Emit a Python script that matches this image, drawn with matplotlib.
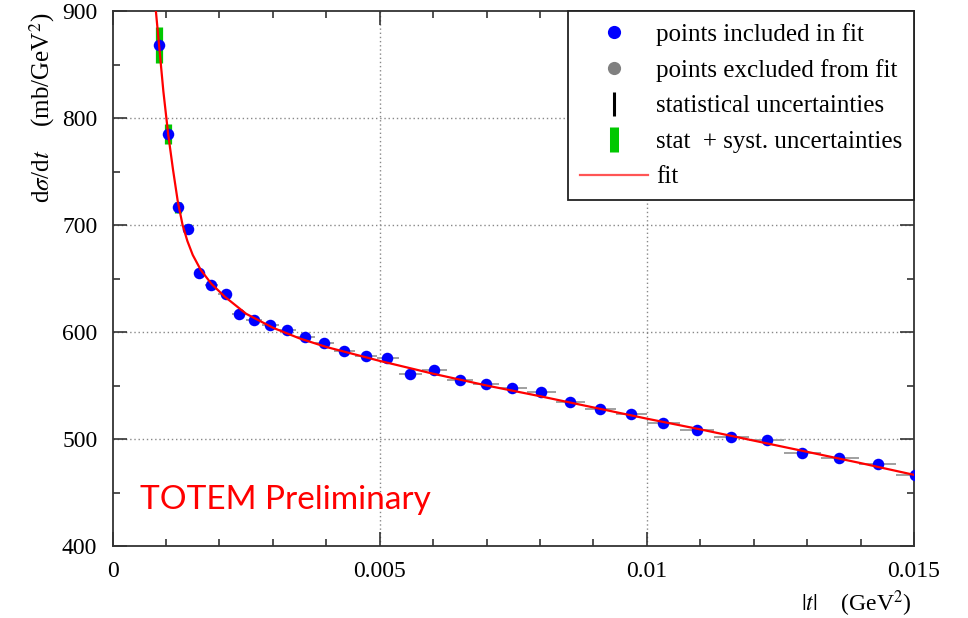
import numpy as np
import matplotlib
matplotlib.use("Agg")
import matplotlib.pyplot as plt
from matplotlib.lines import Line2D

# ---- data ----
t_vals = [0.00087, 0.00104, 0.00122, 0.00142, 0.00162, 0.00184, 0.00212, 0.00236,
          0.00265, 0.00295, 0.00327, 0.00360, 0.00396, 0.00433, 0.00474, 0.00514,
          0.00557, 0.00602, 0.00650, 0.00699, 0.00748, 0.00802, 0.00856, 0.00913,
          0.00971, 0.01031, 0.01094, 0.01158, 0.01224, 0.01291, 0.01360, 0.01433,
          0.01501]
dsig_vals = [868, 785, 716.5, 696.5, 655.4, 644, 635.2, 616.8,
             611, 607, 602, 595.3, 589.7, 582.2, 577.6, 575.7,
             560.7, 564.5, 555.1, 551.4, 547.7, 543.9, 534.6, 528.0,
             523.4, 514.9, 508.4, 501.9, 499.1, 486.9, 482.2, 476.6,
             466]
stat_err = [5, 4, 3, 3, 2.5, 2.5, 2, 2, 2, 2, 2, 2, 2, 2, 2, 2,
            2, 2, 2, 2, 2, 2, 2, 2, 2, 2, 2, 2, 2, 2, 2, 2, 2]
tot_err = [17, 9, 5, 4, 3, 3, 2.5, 2.5, 2.5, 2.5, 2.5, 2.5, 2.5, 2.5, 2.5, 2.5,
           2.5, 2.5, 2.5, 2.5, 2.5, 2.5, 2.5, 2.5, 2.5, 2.5, 2.5, 2.5, 2.5, 2.5, 2.5, 2.5, 2.5]

fit_t = [0.00081, 0.00087, 0.00095, 0.00104, 0.00113, 0.00122, 0.00131, 0.00140,
         0.00150, 0.00165, 0.00185, 0.00210, 0.00250, 0.00300, 0.00350, 0.00400,
         0.00500, 0.00600, 0.00700, 0.00800, 0.00900, 0.01000, 0.01100, 0.01200,
         0.01300, 0.01400, 0.01500]
fit_v = [900, 868, 825, 785, 752, 722, 700, 685,
         672, 658, 645, 633, 617, 604, 594, 586,
         573, 561, 550, 540, 529.5, 519, 509, 498.5,
         488, 477.5, 466.5]

x_ticks = [0, 0.005, 0.01, 0.015]
x_ticklabels = ["0", "0.005", "0.01", "0.015"]
y_ticks = [400, 500, 600, 700, 800, 900]

legend_labels = ["points included in fit", "points excluded from fit",
                 "statistical uncertainties", "stat  + syst. uncertainties", "fit"]

# ---- style ----
plt.rcParams['font.family'] = ['Liberation Serif', 'DejaVu Serif']
plt.rcParams['mathtext.fontset'] = 'stix'

W, H = 968, 618
fig = plt.figure(figsize=(W / 100, H / 100), dpi=100)
ax = fig.add_axes([112.6 / W, 1 - 546 / H, (914 - 112.6) / W, (546 - 11) / H])

t = np.array(t_vals)
v = np.array(dsig_vals)
# bin edges: midpoints between neighbouring points
mids = (t[1:] + t[:-1]) / 2
left = np.concatenate([[t[0] - (mids[0] - t[0])], mids])
right = np.concatenate([mids, [t[-1] + (t[-1] - mids[-1])]])
xerr = np.vstack([t - left, right - t])

green = '#00c800'
ax.errorbar(t, v, yerr=tot_err, fmt='none', ecolor=green, elinewidth=5.2,
            capsize=0, zorder=2)
ax.errorbar(t, v, xerr=xerr, fmt='none', ecolor='#a0a0a0', elinewidth=1.4,
            capsize=0, zorder=2.5)
ax.errorbar(t, v, yerr=stat_err, fmt='none', ecolor='black', elinewidth=1.5,
            capsize=0, zorder=3)
ax.plot(t, v, 'o', color='#0000ff', markersize=8.3, markeredgewidth=0, zorder=4)
ax.plot(fit_t, fit_v, '-', color='#ff0000', linewidth=1.6, zorder=5)

ax.set_xlim(0, 0.015)
ax.set_ylim(400, 900)
ax.set_xticks(x_ticks)
ax.set_xticklabels(x_ticklabels)
ax.set_yticks(y_ticks)
ax.set_xticks(np.arange(0, 0.0151, 0.001), minor=True)
ax.set_yticks(np.arange(400, 901, 50), minor=True)

ax.tick_params(which='both', direction='in', top=True, right=True,
               color='#333333', width=1.2)
ax.tick_params(which='major', length=10, labelsize=17)
ax.tick_params(which='minor', length=5)
ax.tick_params(axis='x', which='major', pad=11)
ax.tick_params(axis='y', which='major', pad=11)
for s in ax.spines.values():
    s.set_color('#333333')
    s.set_linewidth(1.3)

for gx in [0.005, 0.01]:
    ax.axvline(gx, color='#888888', linewidth=1.0, linestyle=(0, (1, 2)), zorder=1)
for gy in [500, 600, 700, 800]:
    ax.axhline(gy, color='#888888', linewidth=1.0, linestyle=(0, (1, 2)), zorder=1)

handles = [
    Line2D([], [], marker='o', color='#0000ff', linestyle='None', markersize=9.5, markeredgewidth=0),
    Line2D([], [], marker='o', color='#808080', linestyle='None', markersize=9.5, markeredgewidth=0),
    Line2D([], [], marker='|', color='black', linestyle='None', markersize=17, markeredgewidth=2.2),
    Line2D([], [], marker='|', color=green, linestyle='None', markersize=18, markeredgewidth=6.5),
    Line2D([], [], color='#ff5555', linewidth=1.6),
]
leg = ax.legend(handles, legend_labels, loc='upper right', borderaxespad=0,
                fontsize=18, frameon=True, fancybox=False, framealpha=1,
                handlelength=2.7, handletextpad=0.32, labelspacing=0.52,
                borderpad=0.48)
leg.get_frame().set_edgecolor('#222222')
leg.get_frame().set_linewidth(1.3)
leg.set_zorder(10)

fig.text(42 / W, 1 - 108 / H, r'd$\sigma$/d$t$    (mb/GeV$^2$)', rotation=90,
         ha='center', va='center', fontsize=18)
fig.text(912 / W, 1 - 604 / H, r'$|t|$    (GeV$^2$)', ha='right', va='center',
         fontsize=17)

ax.text((140 - 112.6) / 801.4, (546 - 500) / 535, 'TOTEM Preliminary',
        transform=ax.transAxes, ha='left', va='center', color='#ff0000',
        fontsize=24, family=['Lato', 'DejaVu Sans'], zorder=6)

fig.savefig('out.png', dpi=100)
